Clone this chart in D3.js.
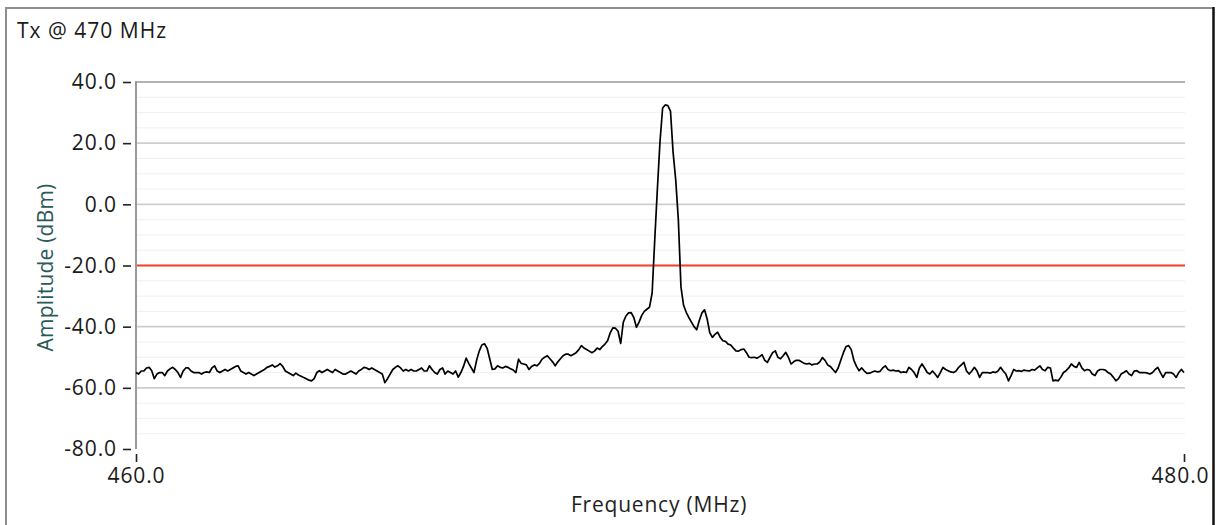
<!DOCTYPE html>
<html>
<head>
<meta charset="utf-8">
<script src="https://cdn.jsdelivr.net/npm/d3@7"></script>
<style>
  html, body { margin: 0; padding: 0; background: #fff; }
  svg { display: block; }
  text { font-family: "Open Sans", "Noto Sans", sans-serif; }
</style>
</head>
<body>
<svg id="chart" width="1225" height="525"></svg>
<script>
// Spectrum sweep: 460–480 MHz, 0.05 MHz bins
const sweepStartMHz = 460;
const sweepStepMHz = 0.05;
const amplitudeDbm = [
  -55, -55.5, -54.5, -54.5, -53.5,
  -53.3, -54.4, -57, -55.5, -55,
  -55, -56, -54.5, -53.8, -53.3,
  -54, -55, -56.6, -54.5, -53.5,
  -53.5, -54.5, -55, -55, -55,
  -55.5, -55, -54.8, -55, -53.5,
  -52.8, -54.5, -55, -54.5, -54,
  -54.5, -54, -53.5, -53, -52.8,
  -54.5, -55, -55.5, -55, -55.5,
  -56, -55.5, -55, -54.5, -54,
  -53.3, -53, -52.5, -53.2, -52.8,
  -52.1, -53, -54.5, -55, -55.5,
  -56, -55.2, -55.8, -56.2, -56.6,
  -57, -57.5, -57.7, -57, -55,
  -54.4, -55, -54.5, -54, -54.5,
  -55, -54, -54.5, -55, -55.5,
  -55.5, -55, -54.5, -55, -55.5,
  -54.5, -54, -53.3, -53.5, -54,
  -53.5, -54, -54.5, -55, -55.5,
  -58.3, -57, -55.5, -54, -53.3,
  -52.8, -53.5, -54.5, -54, -54.5,
  -54, -54.5, -54.5, -54, -53.5,
  -54.5, -54.5, -52.8, -54, -55,
  -55.5, -54, -53.5, -55.5, -54.5,
  -55, -55.5, -54.5, -56.5, -55,
  -53, -50.3, -52, -53.5, -55,
  -51, -48, -46, -45.6, -47,
  -50.5, -54, -53.8, -52.8, -53.3,
  -53.5, -53, -53.3, -53.8, -54.2,
  -55, -50.6, -52, -52.2, -52.5,
  -54, -53, -52.5, -52.8, -52,
  -50.6, -50, -49.5, -50.5, -51.5,
  -52.8, -51.5, -50.5, -49.5, -49,
  -49, -49.5, -49, -48.5, -47.5,
  -46.2, -47, -47.5, -48, -48.5,
  -48, -47, -47.5, -46.5, -45.7,
  -44.6, -42, -40.4, -40.5, -41.5,
  -45.5, -38.5, -36.5, -35.5, -35.4,
  -37, -40.2, -38.5, -36.4, -35,
  -34.3, -33.6, -29, -11.5, 5,
  20.5, 31.5, 32.5, 32.3, 30.5,
  17, 8, -5, -27, -33,
  -35.3, -37, -38.5, -40, -41,
  -38, -35.5, -34.5, -37.5, -42,
  -43.5, -42.5, -41.8, -43.5, -44.6,
  -44.8, -45.7, -46, -47, -47.9,
  -48, -47.5, -47.3, -48.5, -50,
  -50.1, -50, -50.3, -49.8, -49.2,
  -51, -51.7, -50, -48.5, -47.9,
  -50, -50.5, -49.5, -48.4, -50,
  -52.2, -51.5, -51, -51, -51.5,
  -52, -52.2, -52, -52.5, -52.2,
  -52.2, -51.5, -50.1, -51, -52.5,
  -53, -54, -55, -53.5, -51,
  -48.5, -46.5, -46.2, -47.5, -51,
  -53, -54.4, -53.5, -54.5, -55.3,
  -55.2, -54.8, -54.5, -54.8, -54.6,
  -53.5, -52.8, -54, -54.4, -54.2,
  -54.5, -54.4, -55, -54.8, -55,
  -53.3, -54, -55, -56.6, -53.5,
  -52.2, -53.5, -55, -55.5, -54.5,
  -55.5, -56.6, -55, -53.3, -54,
  -54.4, -54.8, -55, -54.5, -53.3,
  -52.5, -51.7, -54.5, -55.5, -54.5,
  -53.3, -54.5, -56.6, -55, -55,
  -55, -55.2, -54.8, -55, -54.5,
  -53.3, -54.5, -55.5, -57.7, -56,
  -54, -54.5, -54.4, -54.6, -54.2,
  -54.4, -54.5, -54, -54.2, -53.5,
  -52.8, -54, -54.4, -53.3, -53.5,
  -57.7, -57.5, -57.7, -56.5, -55,
  -54.4, -53.5, -52.2, -53, -53.3,
  -51.7, -53.5, -54.4, -54, -54.2,
  -55.5, -56, -54.5, -54, -54,
  -54.2, -55, -55.5, -56.5, -57.7,
  -57, -55.5, -55, -54.4, -55.5,
  -56, -54.5, -54.4, -55, -55,
  -55, -55.2, -55.5, -55, -54,
  -53.3, -55, -56.6, -55, -55,
  -55, -55.5, -56.6, -55, -54,
  -55
];

// Axis ranges and ticks
const freqDomain = [460, 480];
const ampDomain = [-80, 40];
const xTickValues = [460, 480];
const yTickValues = [40, 20, 0, -20, -40, -60, -80];
const yMajorGrid = [40, 20, 0, -20, -40, -60];
const yMinorGrid = [35, 30, 25, 15, 10, 5, -5, -10, -15, -25, -30, -35, -45, -50, -55, -65, -70, -75];
const limitDbm = -20;

const titleText = "Tx @ 470 MHz";
const xLabel = "Frequency (MHz)";
const yLabel = "Amplitude (dBm)";

const spectrum = amplitudeDbm.map((a, i) => ({ f: sweepStartMHz + i * sweepStepMHz, a }));

const svg = d3.select("#chart");
const W = 1225, H = 525;
const plot = { left: 136, right: 1184, top: 82, bottom: 449 };

const x = d3.scaleLinear().domain(freqDomain).range([plot.left, plot.right]);
const y = d3.scaleLinear().domain(ampDomain).range([plot.bottom, plot.top]);

// Plain hyphen-minus, one decimal place
const fmt = d => d.toFixed(1);

// Panel frame
svg.append("rect").attr("width", W).attr("height", H).attr("fill", "#fff");
svg.append("line").attr("x1", 6).attr("x2", 6).attr("y1", 7).attr("y2", H)
  .attr("stroke", "#8e8e8e").attr("stroke-width", 2);
svg.append("line").attr("x1", 5).attr("x2", 1214).attr("y1", 8).attr("y2", 8)
  .attr("stroke", "#8e8e8e").attr("stroke-width", 2);
svg.append("line").attr("x1", 1213.5).attr("x2", 1213.5).attr("y1", 7).attr("y2", H)
  .attr("stroke", "#111").attr("stroke-width", 2.5);

// Title
svg.append("text").attr("x", 17).attr("y", 38)
  .attr("font-size", 21).attr("letter-spacing", 1).attr("fill", "#1a1a1a").text(titleText);

// Grid
const grid = svg.append("g");
grid.selectAll("line.minor").data(yMinorGrid).join("line")
  .attr("class", "minor")
  .attr("x1", plot.left).attr("x2", plot.right + 1)
  .attr("y1", d => y(d)).attr("y2", d => y(d))
  .attr("stroke", "#f0f0f0").attr("stroke-width", 1);
grid.selectAll("line.major").data(yMajorGrid).join("line")
  .attr("class", "major")
  .attr("x1", plot.left).attr("x2", plot.right + 1)
  .attr("y1", d => y(d)).attr("y2", d => y(d))
  .attr("stroke", d => d === ampDomain[1] ? "#9a9a9a" : "#cdcdcd")
  .attr("stroke-width", 1.7);

// Left axis line
svg.append("line").attr("x1", plot.left).attr("x2", plot.left)
  .attr("y1", plot.top - 1).attr("y2", plot.bottom)
  .attr("stroke", "#9a9a9a").attr("stroke-width", 2);

// Limit line
svg.append("line")
  .attr("x1", plot.left + 1).attr("x2", plot.right + 1)
  .attr("y1", y(limitDbm)).attr("y2", y(limitDbm))
  .attr("stroke", "#f4432f").attr("stroke-width", 2);

// Spectrum trace
svg.append("path").datum(spectrum)
  .attr("fill", "none").attr("stroke", "#000").attr("stroke-width", 1.7)
  .attr("stroke-linejoin", "round")
  .attr("d", d3.line().x(d => x(d.f)).y(d => y(d.a)));

// Y axis
const yAxis = svg.append("g").attr("transform", `translate(${plot.left - 5},0)`)
  .call(d3.axisLeft(y).tickValues(yTickValues).tickFormat(fmt)
    .tickSize(8).tickPadding(6));
yAxis.select(".domain").remove();
yAxis.selectAll(".tick line").attr("stroke", "#222").attr("stroke-width", 1.6);
yAxis.selectAll(".tick text").attr("font-size", 21).attr("fill", "#1a1a1a")
  .attr("letter-spacing", 0.9)
  .attr("font-family", "'Open Sans', sans-serif");

// X axis
const xAxis = svg.append("g").attr("transform", `translate(0,${plot.bottom + 5})`)
  .call(d3.axisBottom(x).tickValues(xTickValues).tickFormat(fmt)
    .tickSize(8).tickPadding(6));
xAxis.select(".domain").remove();
xAxis.selectAll(".tick line").attr("stroke", "#222").attr("stroke-width", 1.6);
xAxis.selectAll(".tick text").attr("font-size", 21).attr("fill", "#1a1a1a")
  .attr("letter-spacing", 0.9)
  .attr("font-family", "'Open Sans', sans-serif");
// keep the last label inside the panel frame
xAxis.selectAll(".tick text").filter(d => d === freqDomain[1])
  .attr("text-anchor", "end").attr("x", 25);

// Axis titles
svg.append("text")
  .attr("transform", `translate(53,${(plot.top + plot.bottom) / 2 + 2}) rotate(-90)`)
  .attr("text-anchor", "middle")
  .attr("font-size", 21).attr("letter-spacing", 0.2).attr("fill", "#2a5a58").text(yLabel);
svg.append("text").attr("x", 659).attr("y", 512)
  .attr("text-anchor", "middle")
  .attr("font-size", 21).attr("letter-spacing", 0.8).attr("fill", "#1f1f1f").text(xLabel);
</script>
</body>
</html>
